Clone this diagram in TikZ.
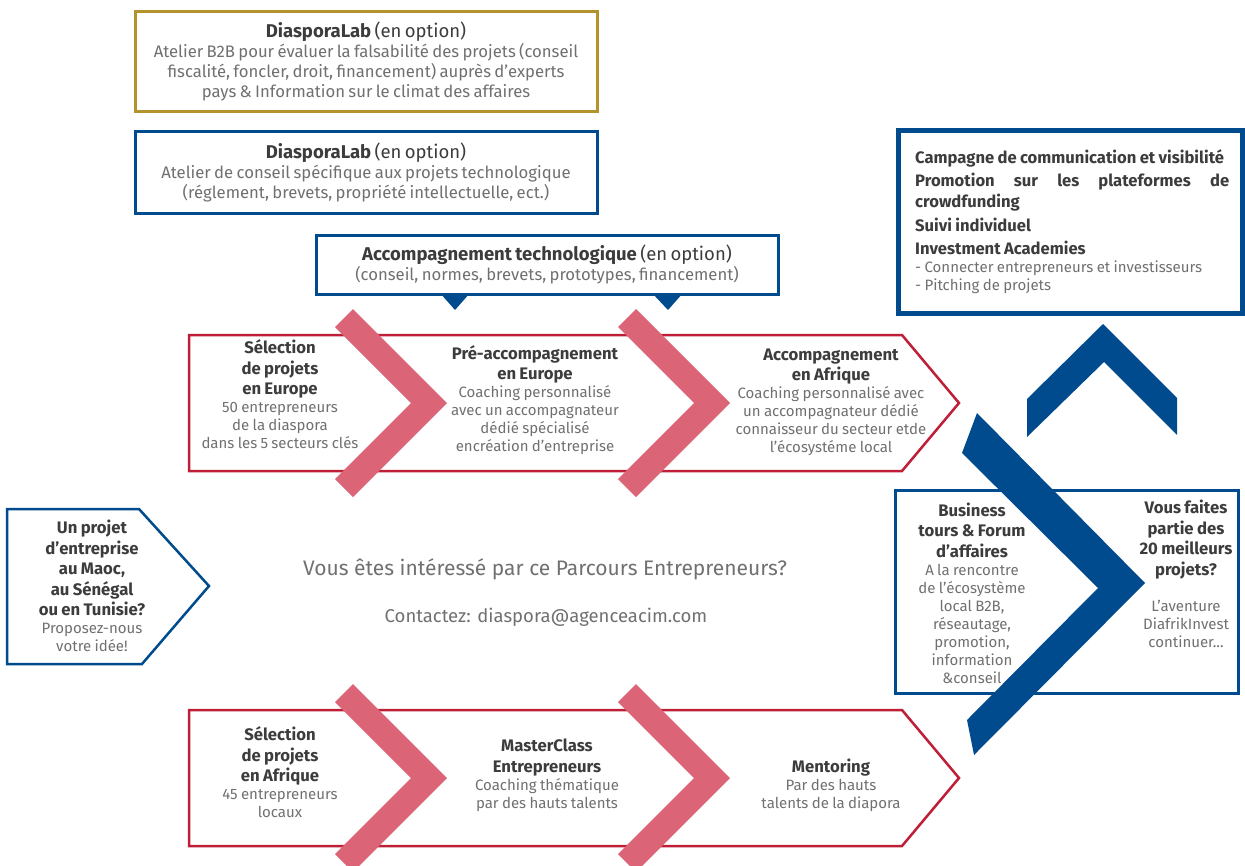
\documentclass[tikz,border=0pt]{standalone}
\usepackage{fontspec}
\setmainfont{Fira Sans}
\definecolor{txtdark}{HTML}{3C3C3C}
\definecolor{txtgrey}{HTML}{707070}
\definecolor{goldline}{HTML}{B3932B}
\definecolor{navy}{HTML}{004B8D}
\definecolor{redline}{HTML}{BE1E36}
\definecolor{pinkchev}{HTML}{DC6477}
% text settings
\newcommand\mytit{\fontsize{16.7}{20.5}\selectfont\bfseries\color{txtdark}}
\newcommand\mybod{\fontsize{15}{18}\selectfont\mdseries\color{txtgrey}}
\newcommand\mytoptit{\fontsize{18.5}{20}\selectfont\color{txtdark}}
\newcommand\mytopbod{\fontsize{16.7}{20}\selectfont\mdseries\color{txtgrey}}
\newcommand\mypanel{\fontsize{16.6}{21}\selectfont\bfseries\color{txtdark}}
\begin{document}
\begin{tikzpicture}[x=1pt,y=-1pt,
  col/.style={inner sep=0pt, align=center},
  infobox/.style={draw, line width=3pt, fill=white, inner sep=0pt, align=center},
  redpent/.style={draw=redline, line width=2.5pt, line join=miter},
  pinkshape/.style={fill=pinkchev},
  navyshape/.style={fill=navy}]
\useasboundingbox (0,0) rectangle (1245,865);

% ---- optional workshops at the top ----
\node[infobox, draw=goldline, minimum width=462, minimum height=100, text width=455] (lab1) at (366,61)
  {{\mytoptit\bfseries DiasporaLab} {\mytoptit (en option)}\par
   \mytopbod Atelier B2B pour évaluer la falsabilité des projets (conseil\\
   fiscalité, foncler, droit, financement) auprès d’experts\\
   pays \& Information sur le climat des affaires\par};

\node[infobox, draw=navy, minimum width=462, minimum height=82, text width=455] (lab2) at (366,172)
  {{\mytoptit\bfseries DiasporaLab} {\mytoptit (en option)}\par
   \mytopbod Atelier de conseil spécifique aux projets technologique\\
   (réglement, brevets, propriété intellectuelle, ect.)\par};

% pointers under the technology box
\fill[navy] (440,293) -- (470,293) -- (455,310) -- cycle;
\fill[navy] (652,293) -- (683,293) -- (668,310) -- cycle;
\node[infobox, draw=navy, minimum width=462, minimum height=59, text width=455] (tech) at (547,264.5)
  {{\mytoptit\bfseries Accompagnement technologique} {\mytoptit (en option)}\par
   \mytopbod (conseil, normes, brevets, prototypes, financement)\par};

% ---- European track ----
\draw[redpent] (189,335) -- (902,335) -- (959,403) -- (902,471) -- (189,471) -- cycle;
% ---- African track ----
\draw[redpent] (189,710) -- (902,710) -- (959,778) -- (902,846) -- (189,846) -- cycle;

% step separators
\foreach \dx/\dy in {0/0, 283/0, 0/375, 283/375}
  \fill[pinkshape, shift={(\dx,\dy)}] (335,327) -- (353,309) -- (447,403) -- (353,497) -- (335,479) -- (411,403) -- cycle;

\node[col, text width=190] (eu1) at (280,394.5)
  {\mytit Sélection\\de projets\\en Europe\par
   \mybod 50 entrepreneurs\\de la diaspora\\dans les 5 secteurs clés\par};
\node[col, text width=200] (eu2) at (535,400)
  {\mytit Pré-accompagnement\\en Europe\par
   \mybod Coaching personnalisé\\avec un accompagnateur\\dédié spécialisé\\encréation d’entreprise\par};
\node[col, text width=210] (eu3) at (831,402.5)
  {\mytit Accompagnement\\en Afrique\par
   \mybod Coaching personnalisé avec\\un accompagnateur dédié\\connaisseur du secteur etde\\l’écosystéme local\par};

\node[col, text width=190] (af1) at (280,772.5)
  {\mytit Sélection\\de projets\\en Afrique\par
   \mybod 45 entrepreneurs\\locaux\par};
\node[col, text width=200] (af2) at (547,775)
  {\mytit MasterClass\\Entrepreneurs\par
   \mybod Coaching thématique\\par des hauts talents\par};
\node[col, text width=200] (af3) at (831,785)
  {\mytit Mentoring\par
   \mybod Par des hauts\\talents de la diapora\par};

% ---- entry point ----
\draw[draw=navy, line width=2.5pt, line join=miter] (7,509) -- (139,509) -- (209,586) -- (142,664) -- (7,664) -- cycle;
\node[col, text width=150] (entry) at (92,586)
  {\mytit Un projet\\d’entreprise\\au Maoc,\\au Sénégal\\ou en Tunisie?\par
   \mybod Proposez-nous\\votre idée!\par};

% ---- contact ----
\node[inner sep=0pt, font=\fontsize{21}{24}\selectfont, text=txtgrey] (ask) at (545,569)
  {Vous êtes intéressé par ce Parcours Entrepreneurs?};
\node[inner sep=0pt, font=\fontsize{18.5}{22}\selectfont, text=txtgrey] (mail) at (546,617)
  {Contactez: diaspora@agenceacim.com};

% ---- final stage ----
\draw[draw=navy, line width=3pt] (895,490) rectangle (1238,693);
\node[col, text width=140] (tours) at (972,593)
  {\mytit Business\\tours \& Forum\\d’affaires\par
   \mybod A la rencontre\\de l’écosystème\\local B2B,\\réseautage,\\promotion,\\information\\\&conseil\par};
\node[col, text width=120] (best) at (1186,574)
  {\mytit Vous faites\\partie des\\20 meilleurs\\projets?\par
   \vspace{18pt}\mybod L’aventure\\DiafrikInvest\\continuer...\par};

\fill[navyshape] (977,413) -- (1145,583) -- (974,755) -- (967,720) -- (1098,588) -- (962,453) -- cycle;
\fill[navyshape] (1027,437) -- (1027,399) -- (1103,324) -- (1177,398) -- (1177,435) -- (1104,362) -- cycle;

% ---- follow-up panel ----
\draw[draw=navy, line width=5pt] (898,130) rectangle (1242,313);
\node[inner sep=0pt, align=left, text width=314, anchor=west] (panel) at (915,221.5)
  {\mypanel Campagne de communication et visibilité\\[2.5pt]
   Promotion\hfill sur\hfill les\hfill plateformes\hfill de\\
   crowdfunding\\[2.5pt]
   Suivi individuel\\[2.5pt]
   Investment Academies\par
   \mybod - Connecter entrepreneurs et investisseurs\\
   - Pitching de projets\par};
\end{tikzpicture}
\end{document}
